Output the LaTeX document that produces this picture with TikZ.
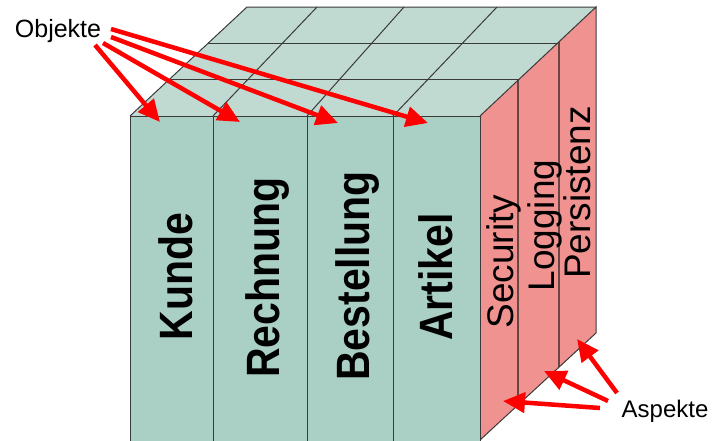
\documentclass[tikz,border=0pt]{standalone}
\usepackage{fontspec}
\usepackage{graphicx}
\setmainfont{Liberation Sans}
\usetikzlibrary{arrows.meta}
\definecolor{frontc}{HTML}{AAD0C5}
\definecolor{topc}{HTML}{C0DAD2}
\definecolor{sidec}{HTML}{F09290}
\definecolor{edgec}{HTML}{3A3A3A}
\definecolor{sidediv}{HTML}{6B4444}
\definecolor{arrred}{HTML}{FF0000}
\begin{document}
\begin{tikzpicture}[x=1pt,y=-1pt,
  edge/.style={draw=edgec, line width=1pt},
  objword/.style={rotate=90, anchor=base, inner sep=0pt, font=\fontsize{41}{41}\selectfont\bfseries},
  aspword/.style={rotate=90, anchor=base, inner sep=0pt, font=\fontsize{37}{37}\selectfont},
  lbl/.style={anchor=base, inner sep=0pt},
  redarrow/.style={draw=arrred, line width=4.5pt, -{Triangle[length=22pt,width=20pt]}}]
\useasboundingbox (0,0) rectangle (714,440);
% top face
\fill[topc] (130,116) -- (247,7) -- (596,7) -- (480,116) -- cycle;
\draw[edge] (170,79) -- (520,79);
\draw[edge] (208,43) -- (558,43);
\draw[edge] (213,116) -- (317,7);
\draw[edge] (307,116) -- (404,7);
\draw[edge] (393,116) -- (497,7);
\draw[edge] (130,116) -- (247,7) -- (596,7);
% right face
\fill[sidec] (480,116) -- (596,7) -- (596,333) -- (480,440) -- cycle;
\draw[sidediv, line width=2.4pt] (518,80) -- (518,405);
\draw[sidediv, line width=1.2pt] (559,42) -- (559,367);
\draw[edge] (480,116) -- (596,7) -- (596,333) -- (480,440);
% front face
\fill[frontc] (130,116) rectangle (480,441);
\draw[edge] (130,441) -- (130,116) -- (480,116) -- (480,441);
\draw[edge] (213,116) -- (213,441);
\draw[edge] (307,116) -- (307,441);
\draw[edge] (393,116) -- (393,441);
% object words
\node[objword] (kunde) at (192,276.5) {\scalebox{1}[1.14]{Kunde}};
\node[objword] (rechnung) at (279,277.5) {\scalebox{1}[1.14]{Rechnung}};
\node[objword] (bestellung) at (369,276) {\scalebox{1}[1.14]{Bestellung}};
\node[objword] (artikel) at (452,277) {\scalebox{1}[1.14]{Artikel}};
% aspect words
\node[aspword] (security) at (513.5,261.5) {Security};
\node[aspword] (logging) at (554.5,225.5) {Logging};
\node[aspword] (persistenz) at (590,192.5) {Persistenz};
% labels
\node[lbl, font=\fontsize{25}{25}\selectfont] (objekte) at (58,37) {Objekte};
\node[lbl, font=\fontsize{24}{24}\selectfont] (aspekte) at (665,417) {Aspekte};
% arrow ends
\coordinate (o1) at (95,45);
\coordinate (o2) at (103,43);
\coordinate (o3) at (111,37);
\coordinate (o4) at (111,29);
\coordinate (t1) at (160,122);
\coordinate (t2) at (240,122);
\coordinate (t3) at (338,123);
\coordinate (t4) at (428,123);
\coordinate (a1) at (600,408);
\coordinate (a2) at (608,401);
\coordinate (a3) at (617,393);
\coordinate (p1) at (503,401);
\coordinate (p2) at (544,371);
\coordinate (p3) at (577,339);
\draw[redarrow] (o1) -- (t1);
\draw[redarrow] (o2) -- (t2);
\draw[redarrow] (o3) -- (t3);
\draw[redarrow] (o4) -- (t4);
\draw[redarrow] (a1) -- (p1);
\draw[redarrow] (a2) -- (p2);
\draw[redarrow] (a3) -- (p3);
\end{tikzpicture}
\end{document}
